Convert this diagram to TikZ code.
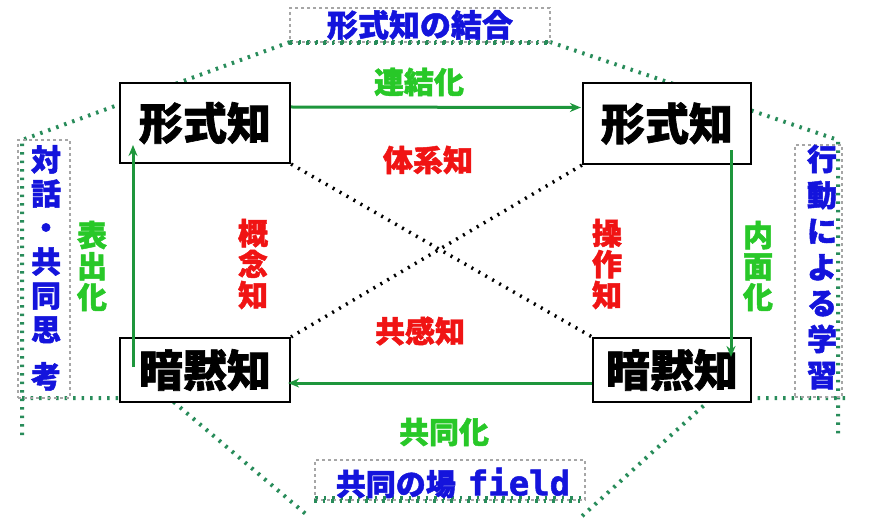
\documentclass[tikz,border=0pt]{standalone}
\usepackage{fontspec}
\newfontfamily\cjk{Noto Sans CJK JP}[BoldFeatures={FakeBold=1.5}]
\newfontfamily\monob{DejaVu Sans Mono}[BoldFeatures={FakeBold=1.5}]
\usetikzlibrary{arrows.meta,calc}
\definecolor{dotgreen}{RGB}{40,140,90}
\definecolor{arrgreen}{RGB}{30,150,60}
\definecolor{lblgreen}{RGB}{40,200,40}
\definecolor{lblred}{RGB}{240,20,20}
\definecolor{lblblue}{RGB}{20,20,220}
\begin{document}
\begin{tikzpicture}[x=1pt,y=-1pt,
  kbox/.style={draw=black,line width=2.2pt,fill=white,inner sep=0pt,
    font=\cjk\bfseries\fontsize{44}{44}\selectfont},
  gdot/.style={draw=dotgreen,line width=4pt,dash pattern=on 2.5pt off 6pt},
  xdot/.style={draw=black,line width=3.5pt,dash pattern=on 2pt off 6pt},
  arr/.style={draw=arrgreen,line width=3pt,-{Stealth[length=11pt,width=9pt]}},
  lblbox/.style={draw=gray!70,line width=1.2pt,dashed,inner sep=0pt},
  glab/.style={text=lblgreen,font=\cjk\bfseries\fontsize{30}{31}\selectfont,align=center,inner sep=0pt},
  rlab/.style={text=lblred,font=\cjk\bfseries\fontsize{30}{31}\selectfont,align=center,inner sep=0pt},
  blab/.style={text=lblblue,font=\cjk\bfseries\fontsize{31}{34}\selectfont,align=center},
]
\useasboundingbox (0,0) rectangle (880,521);
\fill[white] (0,0) rectangle (880,521);

% green dotted frame
\draw[gdot] (290,42) -- (550,42);
\draw[gdot] (290,42) -- (22,140) -- (22,437);
\draw[gdot] (550,42) -- (838,140) -- (838,437);
\draw[gdot] (22,398) -- (169,398) -- (307,515);
\draw[gdot] (845,398) -- (712,398) -- (580,518);
\draw[gdot] (315,498) -- (585,498);

% knowledge boxes
\node[kbox,minimum width=170pt,minimum height=80pt] (TL) at (205,123) {形式知};
\node[kbox,minimum width=168pt,minimum height=81pt] (TR) at (667,123.5) {形式知};
\node[kbox,minimum width=170pt,minimum height=64pt] (BL) at (205,370) {暗黙知};
\node[kbox,minimum width=158pt,minimum height=64pt] (BR) at (672,370) {暗黙知};

% dotted cross
\draw[xdot] (TL.south east) -- (BR.north west);
\draw[xdot] (TR.south west) -- (BL.north east);

% arrows
\draw[arr] ($(TL.east)+(0,-16)$) -- ($(TR.west)+(-1,-16)$);
\draw[arr] ($(TR.center)+(64,27)$) -- ($(BR.center)+(59,-13)$);
\draw[arr] ($(BR.west)+(0,13)$) -- ($(BL.east)+(-3,13)$);
\draw[arr] ($(BL.center)+(-72,-3)$) -- ($(TL.center)+(-72,22)$);

% label boxes
\node[lblbox,minimum width=260pt,minimum height=34pt] (TOP) at (420,25) {};
\node[blab,inner sep=0pt] (TOPT) at (TOP.center) {形式知の結合};
\draw[gdot] (TOP.south west) -- (TOP.south east);

\node[lblbox,minimum width=270pt,minimum height=40pt] (BOT) at (450,480) {};
\node[text=lblblue,inner sep=0pt] (BOTT) at (453,483)
  {\cjk\bfseries\fontsize{30}{30}\selectfont 共同の場\hspace{12pt}{\monob\bfseries\fontsize{34}{34}\selectfont field}};
\draw[gdot] (BOT.south west) -- (BOT.south east);

\node[lblbox,minimum width=52pt,minimum height=258pt] (LB) at (44,269) {};
\node[blab,inner sep=0pt,font=\cjk\bfseries\fontsize{30}{34}\selectfont] (LBT) at (46,268) {対\\話\\・\\共\\同\\思\\[13pt]考};
\node[lblbox,minimum width=47pt,minimum height=252pt] (RB) at (818.5,271) {};
\node[blab,inner sep=0pt,font=\cjk\bfseries\fontsize{30}{36}\selectfont] (RBT) at (822,267) {行\\動\\に\\よ\\る\\学\\習};

% process labels
\node[glab] (L1) at (419,82) {連結化};
\node[glab] (L2) at (92,266) {表\\出\\化};
\node[glab] (L3) at (758,266) {内\\面\\化};
\node[glab] (L4) at (444,432) {共同化};

% knowledge labels
\node[rlab] (K1) at (428,160) {体系知};
\node[rlab] (K2) at (253,264) {概\\念\\知};
\node[rlab] (K3) at (607,264) {操\\作\\知};
\node[rlab] (K4) at (420,331) {共感知};
\end{tikzpicture}
\end{document}
